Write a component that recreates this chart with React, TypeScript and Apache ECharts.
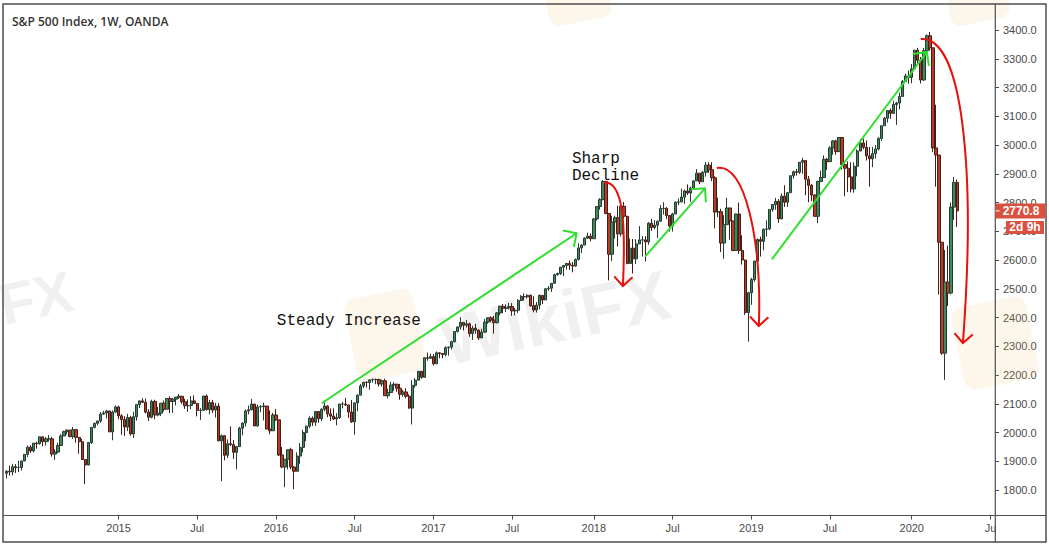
import React, { useEffect, useRef } from "react";
import * as echarts from "echarts";

const chartTitle = "S&P 500 Index, 1W, OANDA";
const firstWeek = "2014-04-14";
const weekSlots = 327;
const firstOpen = 1858;

const close2014 = [1865,1863,1881,1878,1878,1901,1924,1949,1936,1963,1961,1985,1968,1978,1978,1925,1932,1955,1988,2003,2008,1986,2010,1983,1968,1906,1887,1965,2018,2032,2040,2064,2068,2075,2002,2071,2089,2058];
const high2014 = [1869,1885,1891,1890,1902,1902,1925,1955,1956,1963,1968,1985,1984,1984,1991,1985,1942,1964,1994,2006,2011,2008,2019,2010,1985,1978,1906,1965,2019,2034,2041,2071,2075,2079,2074,2077,2094,2093];
const low2014 = [1840,1850,1851,1859,1862,1868,1901,1915,1929,1931,1944,1958,1952,1955,1968,1916,1905,1928,1953,1990,1993,1983,1978,1965,1926,1905,1821,1886,1960,2014,2025,2034,2062,2049,2002,1973,2069,2046];

const close2015 = [2045,2019,2052,1995,2055,2097,2110,2105,2071,2053,2108,2061,2067,2102,2081,2118,2108,2116,2123,2126,2107,2093,2094,2110,2101,2077,2077,2127,2080,2104,2078,2092,1971,1989,1921,1961,1958,1931,1951,2015,2033,2075,2079,2099,2023,2089,2090,2092,2012,2006,2061,2044];
const high2015 = [2064,2057,2065,2058,2072,2097,2111,2119,2118,2081,2114,2114,2089,2103,2111,2120,2126,2120,2123,2134,2126,2117,2115,2127,2129,2086,2085,2127,2132,2114,2113,2103,2102,1993,1987,1976,2021,1974,1952,2020,2034,2080,2094,2117,2094,2097,2095,2104,2090,2077,2068,2082];
const low2015 = [1992,1988,2005,1989,1981,2041,2085,2103,2066,2040,2049,2046,2056,2057,2073,2089,2067,2068,2094,2117,2100,2082,2072,2081,2099,2056,2044,2078,2076,2063,2068,2052,1970,1831,1903,1911,1953,1908,1872,1951,1990,2021,2063,2077,2022,2020,2070,2042,2012,1994,2006,2040];

const close2016 = [1922,1880,1907,1940,1880,1865,1918,1948,2000,2022,2050,2036,2073,2048,2081,2092,2065,2057,2047,2052,2099,2099,2096,2071,2037,2103,2130,2162,2175,2174,2183,2184,2184,2169,2180,2128,2139,2165,2168,2154,2133,2141,2126,2085,2164,2182,2213,2192,2260,2258,2264,2239];
const high2016 = [2038,1950,1908,1940,1947,1882,1931,1963,2009,2024,2056,2056,2075,2074,2084,2111,2095,2084,2084,2067,2100,2106,2120,2095,2113,2104,2132,2169,2176,2178,2185,2188,2188,2187,2184,2187,2152,2176,2175,2169,2169,2148,2154,2133,2182,2189,2214,2214,2260,2278,2274,2273];
const low2016 = [1918,1876,1810,1872,1872,1803,1871,1891,1931,1970,2015,2023,2023,2034,2039,2074,2053,2040,2043,2025,2047,2084,2092,2051,2033,1992,2074,2131,2154,2156,2148,2174,2168,2160,2160,2128,2119,2139,2145,2142,2114,2125,2119,2083,2028,2156,2182,2187,2192,2250,2257,2233];

const close2017 = [2277,2275,2271,2295,2297,2316,2351,2367,2383,2373,2378,2344,2363,2356,2329,2349,2384,2399,2391,2382,2416,2439,2432,2433,2438,2423,2425,2459,2473,2472,2477,2441,2426,2443,2477,2461,2500,2502,2519,2549,2553,2575,2581,2588,2582,2579,2602,2642,2652,2676,2683,2674];
const high2017 = [2282,2279,2276,2300,2299,2319,2352,2368,2401,2383,2391,2382,2371,2378,2359,2361,2395,2400,2404,2406,2419,2441,2447,2446,2451,2450,2433,2464,2478,2484,2481,2480,2474,2454,2480,2475,2501,2509,2520,2552,2556,2576,2582,2590,2598,2593,2605,2658,2654,2679,2695,2692];
const low2017 = [2245,2258,2258,2265,2267,2289,2313,2348,2358,2355,2365,2333,2322,2344,2322,2329,2368,2378,2384,2344,2379,2408,2415,2419,2428,2406,2407,2416,2457,2459,2466,2437,2418,2417,2429,2447,2463,2493,2489,2520,2545,2548,2544,2567,2566,2557,2577,2598,2624,2653,2673,2665];

const close2018 = [2743,2786,2810,2873,2762,2620,2732,2747,2691,2787,2752,2588,2641,2604,2656,2670,2670,2663,2728,2713,2721,2735,2779,2780,2755,2718,2760,2801,2802,2819,2840,2833,2850,2875,2902,2872,2905,2930,2914,2886,2767,2768,2659,2723,2781,2736,2633,2760,2633,2600,2417,2486,2532];
const high2018 = [2746,2787,2815,2878,2872,2763,2754,2754,2789,2787,2802,2754,2675,2673,2672,2718,2683,2683,2732,2743,2739,2736,2791,2801,2784,2756,2764,2804,2814,2848,2845,2863,2855,2877,2916,2900,2909,2941,2940,2940,2891,2817,2778,2756,2816,2775,2718,2761,2800,2686,2601,2489,2538];
const low2018 = [2683,2737,2775,2808,2759,2529,2596,2675,2647,2682,2742,2585,2594,2553,2586,2660,2612,2595,2653,2701,2707,2676,2734,2758,2742,2699,2699,2769,2791,2801,2795,2826,2802,2850,2876,2864,2874,2890,2903,2874,2710,2749,2628,2604,2737,2671,2631,2649,2621,2584,2409,2316,2444];

const close2019 = [2596,2671,2665,2707,2708,2776,2793,2804,2743,2822,2801,2834,2893,2907,2905,2940,2946,2881,2860,2826,2752,2873,2887,2950,2942,2990,3014,2977,3026,2932,2919,2889,2847,2926,2979,3007,2992,2962,2952,2970,2986,3023,3067,3093,3120,3110,3141,3146,3169,3221,3240,3235];
const high2019 = [2598,2675,2681,2709,2738,2776,2794,2816,2812,2831,2860,2836,2894,2911,2917,2940,2955,2932,2892,2864,2829,2876,2911,2964,2955,2996,3017,3018,3028,3028,2944,2943,2940,2940,2985,3021,3022,3016,2993,2993,3000,3027,3068,3098,3121,3127,3154,3150,3182,3226,3248,3259];
const low2019 = [2524,2570,2612,2634,2682,2704,2768,2775,2729,2742,2785,2785,2848,2883,2894,2899,2900,2825,2801,2805,2750,2728,2874,2885,2913,2963,2966,2966,2977,2914,2822,2836,2835,2834,2891,2980,2985,2946,2855,2923,2953,2981,3014,3067,3078,3091,3110,3070,3124,3168,3226,3213];

const close2020 = [3265,3330,3295,3226,3328,3380,3338,2990,2965,2662,2276,2523,2485,2784,2870,2770.8];
const high2020 = [3282,3330,3338,3306,3338,3385,3393,3338,3140,2900,2640,2635,2650,2800,2889,2880];
const low2020 = [3215,3263,3281,3214,3223,3316,3328,2975,2855,2480,2270,2183,2440,2480,2740,2715];

const lastPrice = 2770.8;
const countdown = "2d 9h";

// x-axis tick labels: [week (Monday) date, label]
const xTicks: [string, string][] = [
  ["2014-12-29", "2015"], ["2015-06-29", "Jul"], ["2015-12-28", "2016"], ["2016-06-27", "Jul"],
  ["2016-12-26", "2017"], ["2017-06-26", "Jul"], ["2018-01-01", "2018"], ["2018-07-02", "Jul"],
  ["2018-12-31", "2019"], ["2019-07-01", "Jul"], ["2020-01-06", "2020"], ["2020-07-06", "Ju"],
];

// annotations anchored at [week index, price]
const trendArrows: number[][][] = [
  [[104.1, 2101.6], [188.3, 2692.9]],
  [[210.9, 2611.5], [230.7, 2849.4]],
  [[252.8, 2602.4], [304.0, 3323.5]],
];
const declineCurves: number[][][] = [
  [[197.3, 2871], [203.6, 2872], [204.6, 2739], [203.6, 2509.6]],
  [[234.6, 2920], [243.9, 2941], [249.5, 2669.6], [248.5, 2370.4]],
  [[302.0, 3368.7], [315.9, 3379], [320.2, 2913], [315.9, 2311.3]],
];
const notes: { text: string; at: number[] }[] = [
  { text: "Steady Increase", at: [89.3, 2387.8] },
  { text: "Sharp", at: [186.75, 2951.3] },
  { text: "Decline", at: [186.75, 2892.2] },
];

const closes = [...close2014, ...close2015, ...close2016, ...close2017, ...close2018, ...close2019, ...close2020];
const highs = [...high2014, ...high2015, ...high2016, ...high2017, ...high2018, ...high2019, ...high2020];
const lows = [...low2014, ...low2015, ...low2016, ...low2017, ...low2018, ...low2019, ...low2020];

function buildWeeks(): string[] {
  const out: string[] = [];
  const t0 = Date.parse(firstWeek + "T00:00:00Z");
  for (let i = 0; i < weekSlots; i++) out.push(new Date(t0 + i * 7 * 86400000).toISOString().slice(0, 10));
  return out;
}

function arrowHead(tip: number[], from: number[], len = 13, ang = Math.PI / 4) {
  const dx = from[0] - tip[0];
  const dy = from[1] - tip[1];
  const d = Math.hypot(dx, dy) || 1;
  const ux = dx / d, uy = dy / d;
  const rot = (a: number) => [tip[0] + len * (ux * Math.cos(a) - uy * Math.sin(a)), tip[1] + len * (ux * Math.sin(a) + uy * Math.cos(a))];
  return [rot(ang), tip, rot(-ang)];
}

export default function App() {
  const ref = useRef<HTMLDivElement>(null);
  useEffect(() => {
    if (!ref.current) return;
    const chart = echarts.init(ref.current, null, { renderer: "svg" });
    const weeks = buildWeeks();
    const tickMap = new Map<number, string>();
    xTicks.forEach(([d, l]) => { const i = weeks.indexOf(d); if (i >= 0) tickMap.set(i, l); });
    const candles = closes.map((c, i) => {
      const o = i === 0 ? firstOpen : closes[i - 1];
      return [o, c, Math.min(lows[i], o, c), Math.max(highs[i], o, c)];
    });
    const axisColor = "#4d4d4d";
    chart.setOption({
      animation: false,
      backgroundColor: "#ffffff",
      grid: { left: 5, right: 54, top: 1.25, bottom: 29.25 },
      xAxis: {
        type: "category",
        data: weeks,
        boundaryGap: true,
        offset: -3.25,
        axisLine: { show: false },
        axisTick: { show: true, alignWithLabel: true, length: 4, interval: (i: number) => tickMap.has(i), lineStyle: { color: axisColor } },
        axisLabel: {
          interval: (i: number) => tickMap.has(i),
          formatter: (_v: string, i: number) => tickMap.get(i) ?? "",
          color: "#4a4a4a", fontSize: 11, fontFamily: "Liberation Sans", margin: 7,
        },
        splitLine: { show: false },
      },
      yAxis: {
        type: "value",
        position: "right",
        min: 1700,
        max: 3500,
        interval: 100,
        axisLine: { show: false },
        axisTick: { show: true, length: 4, lineStyle: { color: axisColor } },
        axisLabel: {
          formatter: (v: number) => v.toFixed(1),
          color: "#4a4a4a", fontSize: 11, fontFamily: "Liberation Sans", margin: 8,
          showMinLabel: false, showMaxLabel: false,
        },
        splitLine: { show: false },
      },
      series: [{
        type: "candlestick",
        data: candles,
        barWidth: 2.8,
        itemStyle: { color: "#3a8a5b", color0: "#b83a29", borderColor: "#283a30", borderColor0: "#451c14", borderWidth: 1 },
      }],
    });

    const xa = chart.convertToPixel({ xAxisIndex: 0 }, 0) as number;
    const xb = chart.convertToPixel({ xAxisIndex: 0 }, 100) as number;
    const ya = chart.convertToPixel({ yAxisIndex: 0 }, 2000) as number;
    const yb = chart.convertToPixel({ yAxisIndex: 0 }, 3000) as number;
    const px = (p: number[]) => [xa + ((xb - xa) * p[0]) / 100, ya + ((yb - ya) * (p[1] - 2000)) / 1000];

    const green = "#2ee02e";
    const red = "#e8100c";
    const g: any[] = [];

    // faint watermarks
    const wmFill = "rgba(0,0,0,0.06)";
    const logoFill = "rgba(240,200,110,0.14)";
    g.push({ type: "rect", z: 1, x: 385, y: 335, rotation: 0.21, shape: { x: -35, y: -42, width: 70, height: 84, r: 12 }, style: { fill: logoFill } });
    g.push({ type: "rect", z: 1, x: 578, y: 0, rotation: 0.21, shape: { x: -32, y: -24, width: 64, height: 46, r: 10 }, style: { fill: logoFill } });
    g.push({ type: "rect", z: 1, x: 978, y: 2, rotation: 0.21, shape: { x: -30, y: -22, width: 60, height: 42, r: 10 }, style: { fill: logoFill } });
    g.push({ type: "rect", z: 1, x: 995, y: 343, rotation: 0.21, shape: { x: -38, y: -42, width: 76, height: 84, r: 12 }, style: { fill: logoFill } });
    g.push({ type: "text", z: 1, x: 555, y: 318, rotation: 0.21, style: { text: "WikiFX", fill: wmFill, fontSize: 70, fontWeight: "bold", fontFamily: "Liberation Sans", align: "center", verticalAlign: "middle" } });
    g.push({ type: "text", z: 1, x: 36, y: 298, rotation: 0.21, style: { text: "FX", fill: wmFill, fontSize: 58, fontWeight: "bold", fontFamily: "Liberation Sans", align: "center", verticalAlign: "middle" } });

    // frame and axis lines
    g.push({ type: "rect", z: 40, shape: { x: 3, y: 4, width: 1043, height: 538 }, style: { fill: "none", stroke: axisColor, lineWidth: 1.5 } });
    g.push({ type: "line", z: 40, shape: { x1: 3, y1: 515.5, x2: 1046, y2: 515.5 }, style: { stroke: axisColor, lineWidth: 1.2 } });
    g.push({ type: "line", z: 40, shape: { x1: 995.3, y1: 4, x2: 995.3, y2: 542 }, style: { stroke: axisColor, lineWidth: 1.2 } });

    // title
    g.push({ type: "text", z: 40, x: 12, y: 21, style: { text: chartTitle, fill: "#333333", fontSize: 12, fontWeight: 600, fontFamily: "Open Sans", verticalAlign: "middle" } });

    // green trend arrows
    trendArrows.forEach(([s, e]) => {
      const a = px(s), b = px(e);
      g.push({ type: "line", z: 30, shape: { x1: a[0], y1: a[1], x2: b[0], y2: b[1] }, style: { stroke: green, lineWidth: 2 } });
      g.push({ type: "polyline", z: 30, shape: { points: arrowHead(b, a, 14) }, style: { stroke: green, lineWidth: 2, fill: "none" } });
    });

    // red decline curves
    declineCurves.forEach((pts) => {
      const [p0, p1, p2, p3] = pts.map(px);
      g.push({ type: "bezierCurve", z: 30, shape: { x1: p0[0], y1: p0[1], cpx1: p1[0], cpy1: p1[1], cpx2: p2[0], cpy2: p2[1], x2: p3[0], y2: p3[1] }, style: { stroke: red, lineWidth: 2, fill: "none" } });
      g.push({ type: "polyline", z: 30, shape: { points: arrowHead(p3, p2, 13) }, style: { stroke: red, lineWidth: 2, fill: "none" } });
    });

    // notes
    notes.forEach((n) => {
      const p = px(n.at);
      g.push({ type: "text", z: 30, x: p[0], y: p[1], style: { text: n.text, fill: "#111111", fontSize: 16, fontFamily: "Liberation Mono", verticalAlign: "middle", align: "left" } });
    });

    // last price label
    const yl = px([0, lastPrice])[1];
    g.push({ type: "rect", z: 50, shape: { x: 995.5, y: yl - 7.5, width: 50, height: 15 }, style: { fill: "#d9513f" } });
    g.push({ type: "line", z: 51, shape: { x1: 995.5, y1: yl, x2: 999.5, y2: yl }, style: { stroke: "#ffffff", lineWidth: 1 } });
    g.push({ type: "text", z: 51, x: 1021, y: yl, style: { text: lastPrice.toFixed(1), fill: "#ffffff", fontSize: 12, fontWeight: "bold", fontFamily: "Liberation Sans", align: "center", verticalAlign: "middle" } });
    g.push({ type: "rect", z: 50, shape: { x: 1006, y: yl + 10, width: 38, height: 13 }, style: { fill: "#d9513f" } });
    g.push({ type: "text", z: 51, x: 1025, y: yl + 16.5, style: { text: countdown, fill: "#ffffff", fontSize: 12, fontWeight: "bold", fontFamily: "Liberation Sans", align: "center", verticalAlign: "middle" } });

    chart.setOption({ graphic: { elements: g } });
    return () => chart.dispose();
  }, []);
  return <div ref={ref} style={{ position: "fixed", left: 0, top: 0, width: 1049, height: 548, background: "#fff" }} />;
}
